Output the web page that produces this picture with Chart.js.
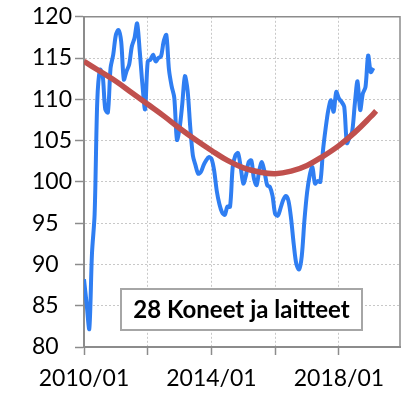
<!DOCTYPE html>
<html>
<head>
<meta charset="utf-8">
<script src="https://cdn.jsdelivr.net/npm/chart.js@4.4.0/dist/chart.umd.min.js"></script>
<style>
  body { margin: 0; background: #fff; }
</style>
</head>
<body>
<canvas id="chart" width="413" height="405"></canvas>
<script>
// monthly volume index, first value is 2010/01
var startYear = 2010;
var indexValues = [
  88.2, 85.2, 82.2, 91.3, 96.1, 109.8, 113.6, 113.0, 108.8, 108.4, 113.8, 115.4,
  117.8, 118.4, 117.0, 112.4, 113.4, 114.2, 116.4, 117.4, 119.2, 115.8, 111.8, 108.8,
  114.6, 114.8, 115.4, 114.6, 115.0, 115.2, 117.0, 117.8, 113.6, 111.6, 110.2, 105.1,
  106.5, 109.4, 112.8, 111.1, 106.7, 103.2, 102.0, 101.0, 101.2, 102.0, 102.6, 103.0,
  102.8, 101.4, 98.9, 97.3, 96.3, 96.0, 97.0, 97.0, 101.8, 103.2, 103.5, 101.8,
  99.8, 100.8, 102.4, 102.6, 100.4, 99.6, 101.4, 102.4, 101.2, 99.6, 99.4, 98.3,
  96.1, 95.9, 96.8, 97.8, 98.3, 97.7, 95.5, 92.4, 90.0, 89.4, 91.0, 95.3,
  98.7, 100.8, 101.8, 99.8, 100.1, 100.0, 103.8, 106.5, 108.7, 109.9, 108.5, 110.9,
  110.1, 109.7, 109.1, 104.7, 105.4, 106.1, 109.5, 112.2, 108.7, 110.7, 111.5, 115.3,
  113.3, 113.8
];

// trend curve, month number from 2010/01 and value
var trendMonths = [0, 6, 12, 18, 24, 30, 36, 42, 48, 54, 60, 66, 72, 78, 84, 90, 96, 102, 108, 110];
var trendValues = [114.6, 113.4, 112.2, 110.8, 109.4, 108.0, 106.5, 105.1, 103.8, 102.6, 101.7, 101.2, 101.0, 101.3, 102.0, 103.1, 104.4, 106.0, 107.9, 108.6];

var yMin = 80, yMax = 120, yStep = 5;
var xTickLabels = ['2010/01', '2014/01', '2018/01'];
var boxTitle = '28 Koneet ja laitteet';

var fontFamily = 'Lato, "Open Sans", sans-serif';
var axisGrey = '#8c8c8c';

var indexPoints = indexValues.map(function(v, i) { return { x: i, y: v }; });
var trendPoints = trendMonths.map(function(m, i) { return { x: m, y: trendValues[i] }; });

// month number -> label text
var labelAt = {};
xTickLabels.forEach(function(lbl) {
  var parts = lbl.split('/');
  labelAt[(parseInt(parts[0], 10) - startYear) * 12 + parseInt(parts[1], 10) - 1] = lbl;
});

var frame = {
  id: 'frame',
  beforeDatasetsDraw: function(chart) {
    var a = chart.chartArea, ctx = chart.ctx;
    ctx.save();
    ctx.strokeStyle = axisGrey;
    ctx.lineWidth = 1.5;
    ctx.beginPath();
    ctx.moveTo(a.left, a.top);
    ctx.lineTo(a.right, a.top);
    ctx.lineTo(a.right, a.bottom);
    ctx.stroke();
    ctx.restore();
  },
  afterDatasetsDraw: function(chart) {
    // series name in a framed box
    var a = chart.chartArea, ctx = chart.ctx;
    var x = a.left + 37, y = a.bottom - 58, w = 241, h = 41;
    ctx.save();
    ctx.fillStyle = '#fff';
    ctx.fillRect(x, y, w, h);
    ctx.strokeStyle = '#a6a6a6';
    ctx.lineWidth = 2;
    ctx.strokeRect(x, y, w, h);
    ctx.fillStyle = '#000';
    ctx.font = 'bold 24px ' + fontFamily;
    ctx.textBaseline = 'middle';
    ctx.textAlign = 'left';
    var tw = ctx.measureText(boxTitle).width;
    var sx = Math.min(1, 223 / tw);
    ctx.translate(x + (w - tw * sx) / 2, y + h / 2 + 1);
    ctx.scale(sx, 1);
    ctx.fillText(boxTitle, 0, 0);
    ctx.restore();
  }
};

var ctx = document.getElementById('chart');

var chart = new Chart(ctx, {
  type: 'line',
  data: {
    datasets: [
      {
        label: 'trend',
        data: trendPoints,
        borderColor: '#c0504d',
        borderWidth: 5.5,
        pointRadius: 0,
        fill: false,
        tension: 0.4,
        order: 0
      },
      {
        label: 'index',
        data: indexPoints,
        borderColor: '#2f7ef2',
        borderWidth: 4,
        pointRadius: 0,
        fill: false,
        tension: 0.3,
        order: 1
      }
    ]
  },
  options: {
    responsive: false,
    animation: false,
    devicePixelRatio: 1,
    layout: { padding: { left: 32, right: 13, top: 16, bottom: 0 } },
    plugins: {
      legend: { display: false },
      tooltip: { enabled: false }
    },
    scales: {
      x: {
        type: 'linear',
        min: 0,
        max: 119,
        afterBuildTicks: function(scale) {
          scale.ticks = scale.ticks.filter(function(t) { return t.value % 24 === 0; });
        },
        afterFit: function(scale) { scale.height = 58; },
        ticks: {
          stepSize: 24,
          autoSkip: false,
          maxRotation: 0,
          padding: 10,
          color: '#000',
          font: { family: fontFamily, size: 23 },
          callback: function(v) { return labelAt[v] || ''; }
        },
        grid: {
          color: '#c8c8c8',
          lineWidth: 1,
          tickLength: 8,
          tickColor: axisGrey,
          tickWidth: 1.5,
          tickBorderDash: []
        },
        border: { display: true, color: axisGrey, width: 2, dash: [2, 2] }
      },
      y: {
        min: yMin,
        max: yMax,
        afterFit: function(scale) { scale.width = 52; },
        ticks: {
          stepSize: yStep,
          crossAlign: 'far',
          color: '#000',
          font: { family: fontFamily, size: 23 }
        },
        grid: {
          color: '#c8c8c8',
          lineWidth: 1,
          tickLength: 9,
          tickColor: axisGrey,
          tickWidth: 1.5,
          tickBorderDash: []
        },
        border: { display: true, color: axisGrey, width: 2, dash: [2, 2] }
      }
    }
  },
  plugins: [frame]
});
</script>
</body>
</html>
